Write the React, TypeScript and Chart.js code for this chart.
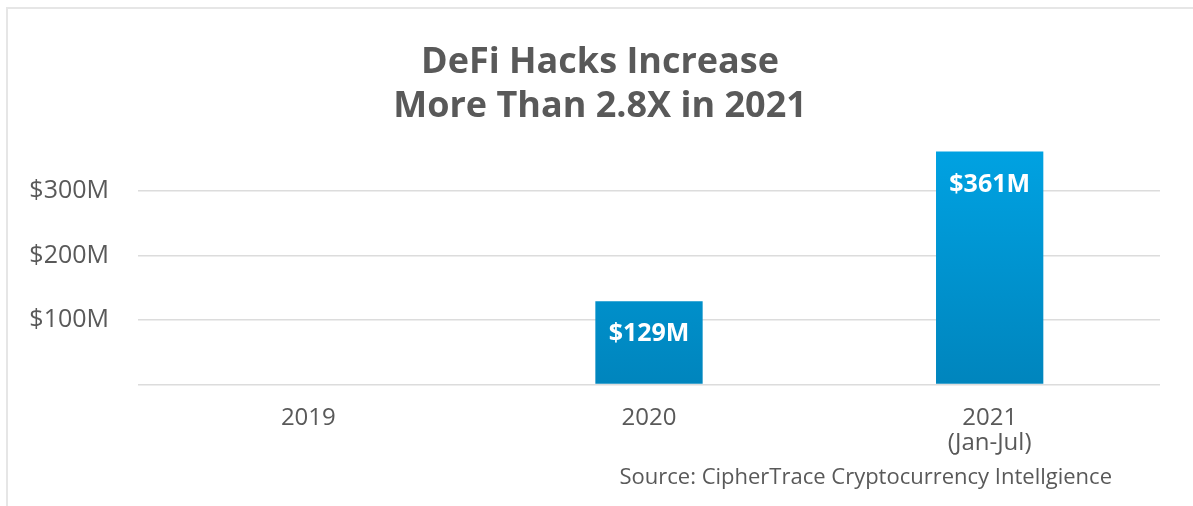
import React, { useEffect, useRef } from "react";
import { Chart, registerables } from "chart.js";

Chart.register(...registerables);

const categories: (string | string[])[] = ["2019", "2020", ["2021", "(Jan-Jul)"]];
const hacksMillions: (number | null)[] = [null, 129, 361];
const valueLabels: string[] = ["", "$129M", "$361M"];
const yTickValues: number[] = [0, 100, 200, 300];
const titleLines: string[] = ["DeFi Hacks Increase", "More Than 2.8X in 2021"];
const sourceText = "Source: CipherTrace Cryptocurrency Intellgience";

const FONT = "'Open Sans', 'Noto Sans', sans-serif";
const GRAY = "#595959";

const barLabelPlugin = {
  id: "barLabels",
  afterDatasetsDraw(chart: any) {
    const ctx = chart.ctx;
    const meta = chart.getDatasetMeta(0);
    ctx.save();
    ctx.fillStyle = "#ffffff";
    ctx.font = `bold 25px ${FONT}`;
    ctx.textAlign = "center";
    ctx.textBaseline = "middle";
    meta.data.forEach((bar: any, i: number) => {
      const label = valueLabels[i];
      if (!label || hacksMillions[i] == null) return;
      ctx.fillText(label, bar.x, bar.y + 33);
    });
    ctx.restore();
  },
};

const textPlugin = {
  id: "titleAndSource",
  afterDraw(chart: any) {
    const ctx = chart.ctx;
    ctx.save();
    ctx.fillStyle = GRAY;
    ctx.textBaseline = "middle";
    ctx.textAlign = "center";
    ctx.font = `bold 36px ${FONT}`;
    titleLines.forEach((line, i) => {
      ctx.fillText(line, 600, 63 + i * 44);
    });
    ctx.font = `22px ${FONT}`;
    ctx.textAlign = "right";
    ctx.fillText(sourceText, chart.chartArea.right - 48, 478);
    ctx.restore();
  },
};

export default function App() {
  const canvasRef = useRef<HTMLCanvasElement | null>(null);

  useEffect(() => {
    document.body.style.margin = "0";
    const canvas = canvasRef.current;
    if (!canvas) return;
    const chart = new Chart(canvas, {
      type: "bar",
      data: {
        labels: categories as any,
        datasets: [
          {
            data: hacksMillions,
            backgroundColor: (c: any) => {
              const area = c.chart.chartArea;
              if (!area) return "#0095d4";
              const g = c.chart.ctx.createLinearGradient(0, area.top, 0, area.bottom);
              g.addColorStop(0, "#00a2e2");
              g.addColorStop(1, "#0085bd");
              return g;
            },
            borderWidth: 0,
            barPercentage: 0.63,
            categoryPercentage: 0.5,
          },
        ],
      },
      options: {
        responsive: false,
        animation: false,
        layout: { padding: { left: 8, right: 33, top: 149, bottom: 29 } },
        plugins: {
          legend: { display: false },
          tooltip: { enabled: false },
          title: { display: false },
        },
        scales: {
          x: {
            grid: { display: false, drawTicks: false },
            border: { display: false },
            ticks: {
              color: GRAY,
              font: { family: FONT, size: 24, lineHeight: 1.05 },
              padding: 21,
              maxRotation: 0,
              autoSkip: false,
            },
          },
          y: {
            min: 0,
            max: 365,
            afterBuildTicks: (axis: any) => {
              axis.ticks = yTickValues.map((v) => ({ value: v }));
            },
            afterFit: (axis: any) => {
              axis.width = 130;
            },
            grid: { color: "#dcdcdc", lineWidth: 1.5, drawTicks: false },
            border: { display: false },
            ticks: {
              color: GRAY,
              font: { family: FONT, size: 25 },
              padding: 29,
              callback: (v: any) => (Number(v) === 0 ? "" : `$${v}M`),
            },
          },
        },
      },
      plugins: [barLabelPlugin, textPlugin],
    });
    return () => chart.destroy();
  }, []);

  return (
    <div style={{ position: "relative", width: 1193, height: 506, background: "#ffffff", overflow: "hidden" }}>
      <div
        style={{
          position: "absolute",
          left: 6,
          top: 7,
          width: 1193,
          height: 506,
          borderTop: "2px solid #e6e6e6",
          borderLeft: "2px solid #e6e6e6",
          pointerEvents: "none",
        }}
      />
      <canvas ref={canvasRef} width={1193} height={506} style={{ position: "absolute", left: 0, top: 0, display: "block" }} />
    </div>
  );
}
